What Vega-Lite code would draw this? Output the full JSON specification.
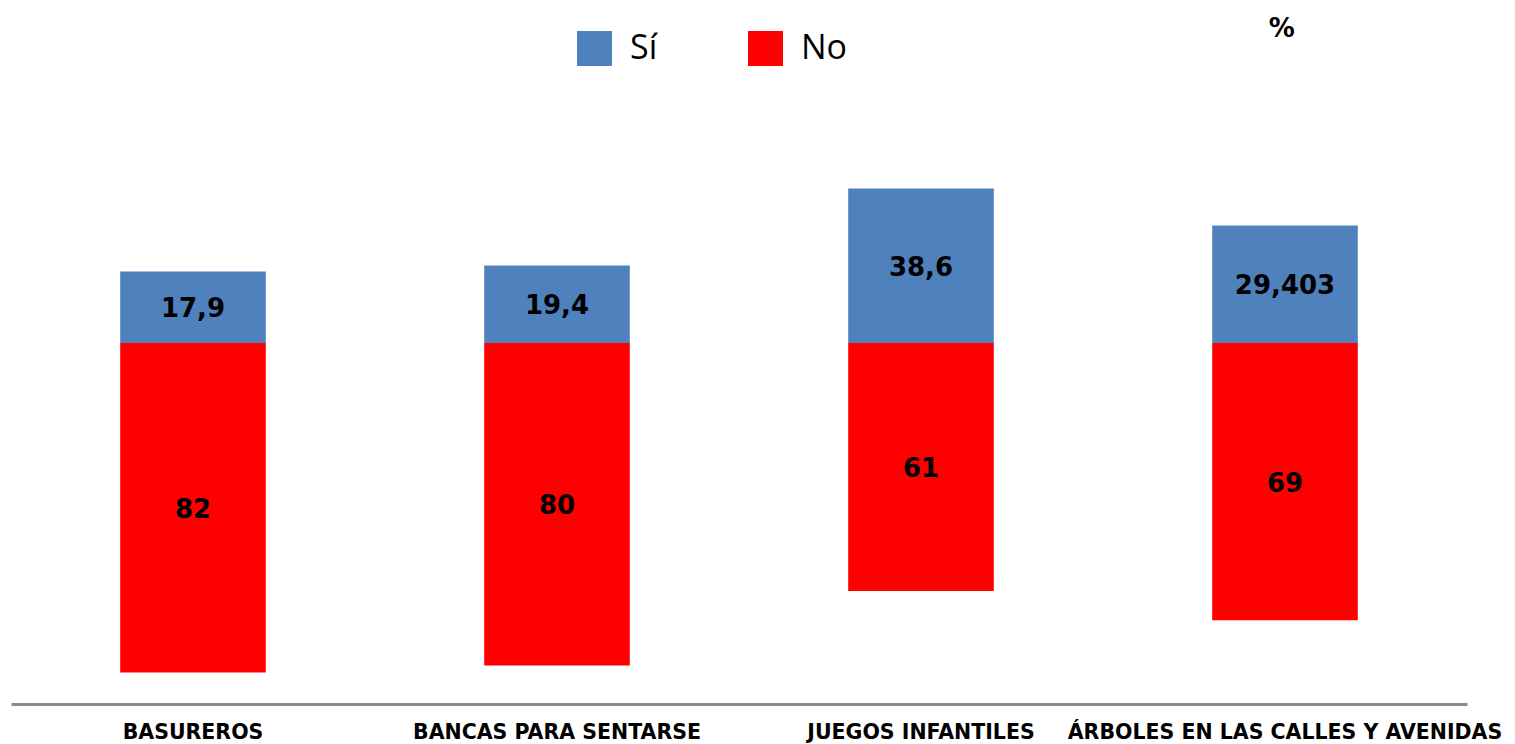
{
  "$schema": "https://vega.github.io/schema/vega-lite/v6.json",
  "width": 1456,
  "height": 604,
  "autosize": "none",
  "padding": {"left": 11, "top": 100, "right": 48, "bottom": 40},
  "background": "white",
  "config": {"view": {"stroke": null}},
  "title": {"text": "%", "anchor": "end", "dx": -207, "offset": -11, "fontSize": 26, "font": "DejaVu Sans", "fontWeight": "bold", "color": "#000000"},
  "data": {"values": [
    {"cat": "BASUREROS", "serie": "Sí", "v": 17.9, "label": "17,9"},
    {"cat": "BASUREROS", "serie": "No", "v": -82.4, "label": "82"},
    {"cat": "BANCAS PARA SENTARSE", "serie": "Sí", "v": 19.4, "label": "19,4"},
    {"cat": "BANCAS PARA SENTARSE", "serie": "No", "v": -80.6, "label": "80"},
    {"cat": "JUEGOS INFANTILES", "serie": "Sí", "v": 38.6, "label": "38,6"},
    {"cat": "JUEGOS INFANTILES", "serie": "No", "v": -62.0, "label": "61"},
    {"cat": "ÁRBOLES EN LAS CALLES Y AVENIDAS", "serie": "Sí", "v": 29.403, "label": "29,403"},
    {"cat": "ÁRBOLES EN LAS CALLES Y AVENIDAS", "serie": "No", "v": -69.3, "label": "69"}
  ]},
  "encoding": {
    "x": {
      "field": "cat", "type": "nominal", "sort": null,
      "scale": {"paddingInner": 0.6, "paddingOuter": 0.3},
      "axis": {
        "title": null, "labelAngle": 0, "ticks": false,
        "domainColor": "#8C8C8C", "domainWidth": 3,
        "labelFont": "DejaVu Sans", "labelFontWeight": "bold", "labelFontSize": 20.5,
        "labelColor": "#000000", "labelPadding": 18, "labelLimit": 0
      }
    }
  },
  "layer": [
    {
      "mark": {"type": "bar"},
      "encoding": {
        "y": {"field": "v", "type": "quantitative", "stack": null,
              "scale": {"domain": [-90.25, 60.75], "nice": false, "zero": false}, "axis": null},
        "color": {"field": "serie", "type": "nominal",
                  "scale": {"domain": ["Sí", "No"], "range": ["#4F81BD", "#FF0000"]},
                  "legend": {"orient": "none", "legendX": 566, "legendY": -69, "direction": "horizontal",
                             "title": null, "symbolType": "square", "symbolSize": 1225, "symbolStrokeWidth": 0,
                             "symbolOpacity": 1,
                             "labelFont": "Open Sans", "labelFontSize": 34, "labelOffset": 18,
                             "columnPadding": 90, "labelColor": "#000000"}}
      }
    },
    {
      "transform": [{"calculate": "datum.v / 2", "as": "mid"}],
      "mark": {"type": "text", "font": "DejaVu Sans", "fontWeight": "bold", "fontSize": 26, "color": "#000000", "baseline": "middle", "dy": 2},
      "encoding": {
        "y": {"field": "mid", "type": "quantitative"},
        "text": {"field": "label"}
      }
    }
  ]
}
